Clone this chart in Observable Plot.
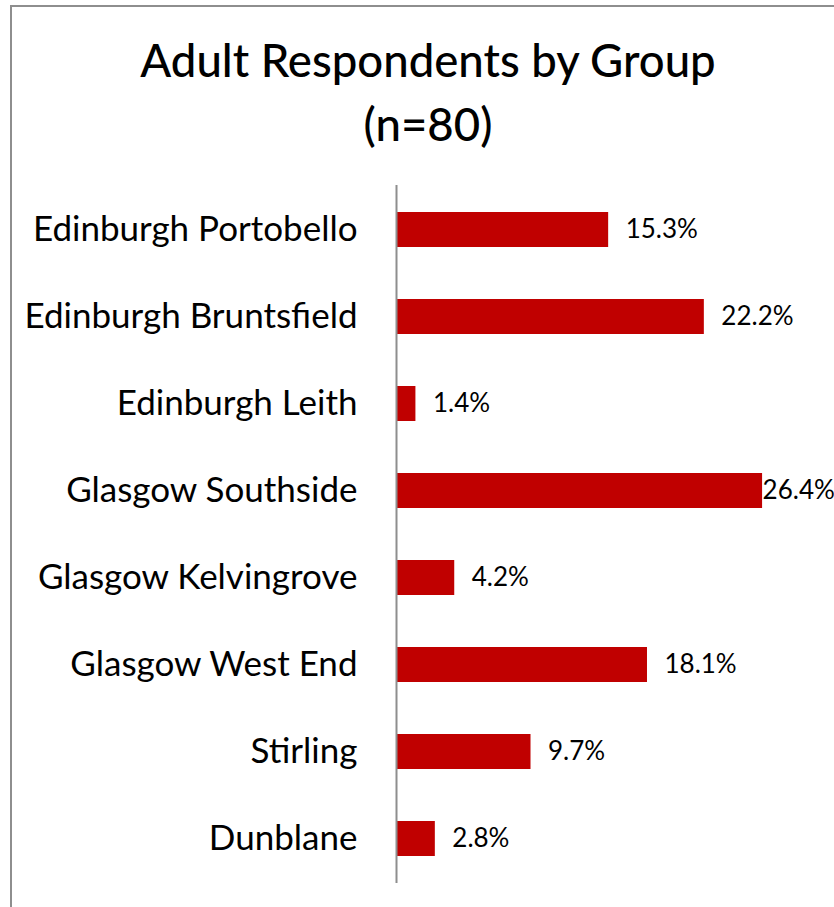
<!DOCTYPE html>
<html>
<head>
<meta charset="utf-8">
<script src="https://cdn.jsdelivr.net/npm/d3@7"></script>
<script src="https://cdn.jsdelivr.net/npm/@observablehq/plot@0.6"></script>
<style>
  html, body { margin: 0; padding: 0; background: #fff; }
  body { width: 834px; height: 907px; position: relative; overflow: hidden; font-family: Lato, "DejaVu Sans", sans-serif; }
  #border { position: absolute; left: 10px; top: 5px; width: 900px; height: 950px; border-left: 2px solid #8e8e8e; border-top: 2px solid #8e8e8e; }
  #title { position: absolute; left: 0; top: 28px; width: 856px; text-align: center; font-size: 45.5px; line-height: 64px; font-weight: 500; color: #000; }
  #chart { position: absolute; left: 0; top: 0; }
</style>
</head>
<body>
<div id="border"></div>
<div id="title">Adult Respondents by Group<br>(n=80)</div>
<div id="chart"></div>
<script>
const groups = [
  "Edinburgh Portobello",
  "Edinburgh Bruntsfield",
  "Edinburgh Leith",
  "Glasgow Southside",
  "Glasgow Kelvingrove",
  "Glasgow West End",
  "Stirling",
  "Dunblane"
];
const percents = [15.3, 22.2, 1.4, 26.4, 4.2, 18.1, 9.7, 2.8];

const data = groups.map((g, i) => ({group: g, pct: percents[i]}));
const labelFitsOutside = d => d.pct <= 25;

const chart = Plot.plot({
  width: 834,
  height: 907,
  marginTop: 185,
  marginBottom: 24,
  marginLeft: 396,
  marginRight: 22,
  style: {fontFamily: "Lato, 'DejaVu Sans', sans-serif", background: "transparent", overflow: "visible"},
  x: {domain: [0, 30], axis: null},
  y: {domain: groups, paddingInner: 0.6, paddingOuter: 0.3, label: null},
  marks: [
    Plot.barX(data, {x: "pct", y: "group", fill: "#C00000"}),
    Plot.ruleX([0], {stroke: "#8e8e8e", strokeWidth: 2}),
    Plot.axisY({tickSize: 0, tickPadding: 39, fontSize: 35, label: null, fill: "#000"}),
    Plot.text(data.filter(labelFitsOutside), {
      x: "pct", y: "group", text: d => d.pct.toFixed(1) + "%",
      textAnchor: "start", dx: 17, fontSize: 26, fill: "#000"
    }),
    Plot.text(data.filter(d => !labelFitsOutside(d)), {
      x: "pct", y: "group", text: d => d.pct.toFixed(1) + "%",
      textAnchor: "start", dx: 0, fontSize: 26, fill: "#000"
    })
  ]
});
document.getElementById("chart").appendChild(chart);
</script>
</body>
</html>
